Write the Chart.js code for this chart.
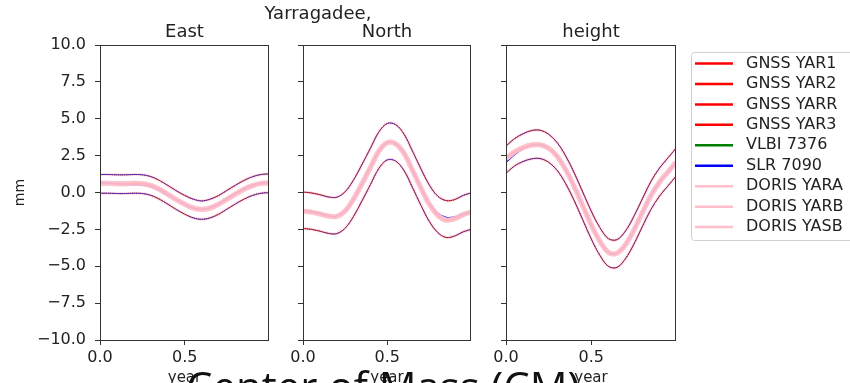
<!DOCTYPE html>
<html>
<head>
<meta charset="utf-8">
<script src="https://cdn.jsdelivr.net/npm/chart.js@4.4.0/dist/chart.umd.min.js"></script>
<style>
html, body { margin: 0; padding: 0; width: 850px; height: 383px; overflow: hidden; background: #fff; }
canvas { position: absolute; top: 0; }
#cm { position: absolute; left: 186px; top: 365px; font-family: "Open Sans"; font-size: 42px; line-height: 1; color: #111; white-space: nowrap; }
</style>
</head>
<body>
<canvas id="east" width="280" height="400" style="left:0px"></canvas>
<canvas id="north" width="280" height="400" style="left:200px"></canvas>
<canvas id="height" width="370" height="400" style="left:480px"></canvas>
<div id="cm">Center of Mass (CM)</div>
<script>
// fraction of year
const years = [0, 0.05, 0.1, 0.15, 0.2, 0.25, 0.3, 0.35, 0.4, 0.45, 0.5, 0.55, 0.6, 0.65, 0.7, 0.75, 0.8, 0.85, 0.9, 0.95, 0.997];

// East (mm)
const eastMean  = [0.62, 0.62, 0.6, 0.6, 0.62, 0.6, 0.48, 0.22, -0.12, -0.48, -0.8, -1.05, -1.15, -1.05, -0.8, -0.45, -0.1, 0.22, 0.47, 0.62, 0.66];
const eastSlr   = [0.66, 0.64, 0.6, 0.56, 0.52, 0.5, 0.4, 0.16, -0.16, -0.5, -0.82, -1.06, -1.14, -1.02, -0.76, -0.4, -0.04, 0.28, 0.52, 0.66, 0.7];
const eastUpper = [1.22, 1.22, 1.2, 1.2, 1.22, 1.2, 1.08, 0.82, 0.48, 0.12, -0.2, -0.45, -0.57, -0.45, -0.2, 0.15, 0.5, 0.82, 1.07, 1.22, 1.26];
const eastLower = [-0.05, -0.05, -0.07, -0.07, -0.05, -0.07, -0.19, -0.45, -0.79, -1.15, -1.47, -1.72, -1.82, -1.72, -1.47, -1.12, -0.77, -0.45, -0.2, -0.05, -0.01];

// North (mm)
const northMean  = [-1.27, -1.33, -1.45, -1.6, -1.62, -1.25, -0.45, 0.6, 1.7, 2.8, 3.38, 3.3, 2.65, 1.5, 0.3, -0.8, -1.55, -1.88, -1.78, -1.5, -1.33];
const northSlr   = [-1.22, -1.28, -1.4, -1.55, -1.6, -1.25, -0.45, 0.6, 1.7, 2.8, 3.38, 3.3, 2.65, 1.5, 0.3, -0.75, -1.4, -1.68, -1.65, -1.45, -1.3];
const northUpper = [0.03, -0.03, -0.15, -0.3, -0.32, 0.05, 0.85, 1.9, 3.0, 4.1, 4.68, 4.6, 3.95, 2.8, 1.6, 0.5, -0.25, -0.55, -0.48, -0.2, -0.03];
const northLower = [-2.44, -2.5, -2.62, -2.77, -2.79, -2.42, -1.62, -0.57, 0.53, 1.63, 2.21, 2.13, 1.48, 0.33, -0.87, -1.97, -2.72, -3.05, -2.95, -2.67, -2.5];

// height (mm)
const heightMean  = [2.3, 2.75, 3.05, 3.22, 3.24, 3.0, 2.45, 1.55, 0.4, -0.9, -2.2, -3.3, -4.05, -4.12, -3.55, -2.55, -1.35, -0.2, 0.7, 1.4, 2.05];
const heightSlr   = [2.05, 2.55, 2.95, 3.18, 3.24, 3.0, 2.45, 1.55, 0.4, -0.9, -2.2, -3.3, -4.05, -4.12, -3.55, -2.55, -1.35, -0.2, 0.7, 1.35, 1.95];
const heightUpper = [3.15, 3.65, 3.98, 4.2, 4.22, 3.95, 3.38, 2.48, 1.33, 0.03, -1.27, -2.37, -3.12, -3.2, -2.62, -1.62, -0.42, 0.75, 1.65, 2.35, 3.0];
const heightLower = [1.3, 1.8, 2.1, 2.28, 2.3, 2.05, 1.5, 0.6, -0.55, -1.85, -3.15, -4.25, -5.0, -5.08, -4.5, -3.5, -2.3, -1.15, -0.25, 0.45, 1.1];

const seriesNames = ['GNSS YAR1', 'GNSS YAR2', 'GNSS YARR', 'GNSS YAR3', 'VLBI 7376', 'SLR 7090', 'DORIS YARA', 'DORIS YARB', 'DORIS YASB'];
const seriesColors = ['#ff0000', '#ff0000', '#ff0000', '#ff0000', '#008000', '#0000ff', '#ffc0cb', '#ffc0cb', '#ffc0cb'];
const yTicks = [-10, -7.5, -5, -2.5, 0, 2.5, 5, 7.5, 10];
const xTicks = [0, 0.5];

const FONT = 'DejaVu Sans';

function pts(arr) {
    return years.map((x, i) => ({x: x, y: arr[i]}));
}

function buildDatasets(mean, slr, upper, lower) {
    const sets = [];
    seriesNames.forEach((name, i) => {
        const doris = name.startsWith('DORIS');
        const isSlr = name.startsWith('SLR');
        sets.push({
            label: name,
            data: pts(isSlr ? slr : mean),
            borderColor: doris ? 'rgba(255,192,203,0.6)' : seriesColors[i],
            borderWidth: doris ? 5 : 1.2,
            order: doris ? -1 : (isSlr ? 1 : 2),
            inLegend: true
        });
    });
    // upper / lower uncertainty curves
    const bands = [
        {color: 'rgba(255,192,203,0.5)', width: 3, dash: [], order: 6},
        {color: 'rgba(0,128,0,0.5)', width: 1, dash: [1, 2], order: 5},
        {color: 'rgba(190,0,30,0.85)', width: 1, dash: [], order: 4},
        {color: 'rgba(40,40,200,0.8)', width: 1, dash: [1, 1], order: 3}
    ];
    bands.forEach(b => {
        [upper, lower].forEach(arr => {
            sets.push({
                label: '',
                data: pts(arr),
                borderColor: b.color,
                borderWidth: b.width,
                borderDash: b.dash,
                order: b.order,
                inLegend: false
            });
        });
    });
    return sets;
}

const panelPlugin = {
    id: 'panel',
    afterDraw(chart, args, opts) {
        const {ctx, chartArea} = chart;
        ctx.save();
        ctx.strokeStyle = '#333';
        ctx.lineWidth = 1;
        ctx.strokeRect(chartArea.left + 0.5, chartArea.top + 0.5,
            chartArea.right - chartArea.left - 1, chartArea.bottom - chartArea.top);
        ctx.fillStyle = '#222';
        ctx.textAlign = 'center';
        ctx.textBaseline = 'alphabetic';
        ctx.font = '18px "' + FONT + '"';
        ctx.fillText(opts.title, (chartArea.left + chartArea.right) / 2, 37);
        if (opts.suptitle) {
            ctx.fillText(opts.suptitle, opts.supX, 19);
        }
        ctx.restore();
    }
};

const legendPlugin = {
    id: 'boxLegend',
    afterDraw(chart, args, opts) {
        const ctx = chart.ctx;
        const items = chart.data.datasets.filter(d => d.inLegend);
        const x0 = opts.x, y0 = opts.y;
        ctx.save();
        ctx.fillStyle = 'rgba(255,255,255,0.8)';
        ctx.strokeStyle = '#d0d0d0';
        ctx.lineWidth = 1;
        ctx.beginPath();
        ctx.roundRect(x0 + 0.5, y0 + 0.5, 200, 188, 3);
        ctx.fill();
        ctx.stroke();
        ctx.font = '16px "' + FONT + '"';
        ctx.textBaseline = 'middle';
        ctx.textAlign = 'left';
        items.forEach((d, i) => {
            const y = y0 + 11.5 + i * 20.45;
            ctx.strokeStyle = seriesColors[seriesNames.indexOf(d.label)];
            ctx.lineWidth = 2.5;
            ctx.beginPath();
            ctx.moveTo(x0 + 4, y);
            ctx.lineTo(x0 + 42, y);
            ctx.stroke();
            ctx.fillStyle = '#222';
            ctx.fillText(d.label, x0 + 55, y);
        });
        ctx.restore();
    }
};

function makeChart(id, opts) {
    return new Chart(document.getElementById(id), {
        type: 'line',
        data: {datasets: buildDatasets(opts.mean, opts.slr, opts.upper, opts.lower)},
        options: {
            responsive: false,
            animation: false,
            devicePixelRatio: 1,
            layout: {padding: {top: 45, right: opts.padRight, left: 0, bottom: 0}},
            elements: {
                point: {radius: 0},
                line: {tension: 0.35, fill: false}
            },
            plugins: {
                legend: {display: false},
                tooltip: {enabled: false},
                panel: {title: opts.title, suptitle: opts.suptitle, supX: opts.supX},
                boxLegend: opts.legend || {}
            },
            scales: {
                x: {
                    type: 'linear',
                    min: 0,
                    max: 0.997,
                    afterBuildTicks: s => { s.ticks = xTicks.map(v => ({value: v})); },
                    afterFit: s => { s.height = 60; },
                    grid: {drawOnChartArea: false, drawTicks: true, tickLength: 5, color: '#333'},
                    border: {display: false},
                    ticks: {
                        color: '#222',
                        padding: 3,
                        maxRotation: 0,
                        font: {family: FONT, size: 16},
                        callback: v => v.toFixed(1)
                    },
                    title: {
                        display: true,
                        text: 'year',
                        color: '#222',
                        font: {family: FONT, size: 15},
                        padding: {top: 0, bottom: 13}
                    }
                },
                y: {
                    min: -10,
                    max: 10,
                    afterBuildTicks: s => { s.ticks = yTicks.map(v => ({value: v})); },
                    afterFit: s => { s.width = opts.yWidth; },
                    grid: {drawOnChartArea: false, drawTicks: true, tickLength: 5, color: '#333'},
                    border: {display: false},
                    ticks: {
                        display: opts.yLabels,
                        color: '#222',
                        padding: 9,
                        font: {family: FONT, size: 16},
                        callback: v => v.toFixed(1).replace('-', '\u2212')
                    },
                    title: {
                        display: opts.yLabels,
                        text: 'mm',
                        color: '#222',
                        font: {family: FONT, size: 14},
                        padding: {top: 12, bottom: 0}
                    }
                }
            }
        },
        plugins: opts.legend ? [panelPlugin, legendPlugin] : [panelPlugin]
    });
}

makeChart('east', {
    title: 'East', mean: eastMean, slr: eastSlr, upper: eastUpper, lower: eastLower,
    yWidth: 100, padRight: 11, yLabels: true
});
makeChart('north', {
    title: 'North', mean: northMean, slr: northSlr, upper: northUpper, lower: northLower,
    yWidth: 103, padRight: 9, yLabels: false, suptitle: 'Yarragadee,', supX: 118
});
makeChart('height', {
    title: 'height', mean: heightMean, slr: heightSlr, upper: heightUpper, lower: heightLower,
    yWidth: 26, padRight: 174, yLabels: false, legend: {x: 211, y: 52}
});
</script>
</body>
</html>
